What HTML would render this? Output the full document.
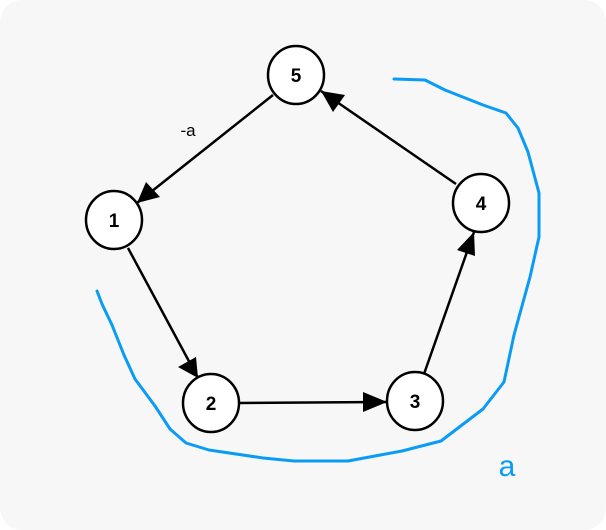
<!DOCTYPE html>
<html><head><meta charset="utf-8"><style>
html,body{margin:0;padding:0;background:#fff;}
svg{display:block;}
</style></head><body>
<svg width="606" height="530" viewBox="0 0 606 530" xmlns="http://www.w3.org/2000/svg">
<rect x="0" y="0" width="606" height="530" rx="22" fill="#f7f7f7"/>
<g stroke="#000" stroke-width="2.5" fill="none">
<line x1="273" y1="95" x2="137" y2="203"/>
<line x1="128" y1="248" x2="198" y2="378"/>
<line x1="240" y1="403" x2="387" y2="402"/>
<line x1="424" y1="374" x2="474" y2="232"/>
<line x1="456" y1="184" x2="321" y2="91"/>
</g>
<g fill="#000">
<polygon points="137,203 146,182 160,197"/>
<polygon points="198,378 178,367 196,357"/>
<polygon points="387,402 363,392 363,412"/>
<polygon points="474,232 475,256 457,250"/>
<polygon points="321,91 345,95 333,112"/>
</g>
<g stroke="#000" stroke-width="2.5" fill="#fff">
<ellipse cx="296" cy="75" rx="28" ry="29"/>
<ellipse cx="114" cy="220" rx="28" ry="29"/>
<ellipse cx="211" cy="403" rx="28" ry="29"/>
<ellipse cx="415" cy="401" rx="28" ry="29"/>
<ellipse cx="481" cy="203" rx="28" ry="29"/>
</g>
<g font-family="Liberation Sans, sans-serif" font-weight="bold" font-size="19" text-anchor="middle" fill="#000">
<text x="296" y="82">5</text>
<text x="114" y="227">1</text>
<text x="211" y="410">2</text>
<text x="415" y="408">3</text>
<text x="481" y="210">4</text>
</g>
<text x="188" y="136" font-family="Liberation Sans, sans-serif" font-size="17" text-anchor="middle" fill="#000">-a</text>
<path d="M394,79 L425,80 L445,90 L483,105 L506,113 L518,128 L528,152 L539,193 L539,237 L530,277 L514,335 L504,382 L483,409 L441,441 L402,451 L348,461 L294,461 L263,458 L209,450 L186,443 L170,429 L155,406 L135,379 L124,355 L112,325 L102,304 L97,291" fill="none" stroke="#0a9cf5" stroke-width="3" stroke-linejoin="round" stroke-linecap="round"/>
<text x="507" y="476" font-family="Liberation Sans, sans-serif" font-size="30" text-anchor="middle" fill="#0a9cf5">a</text>
</svg>
</body></html>
